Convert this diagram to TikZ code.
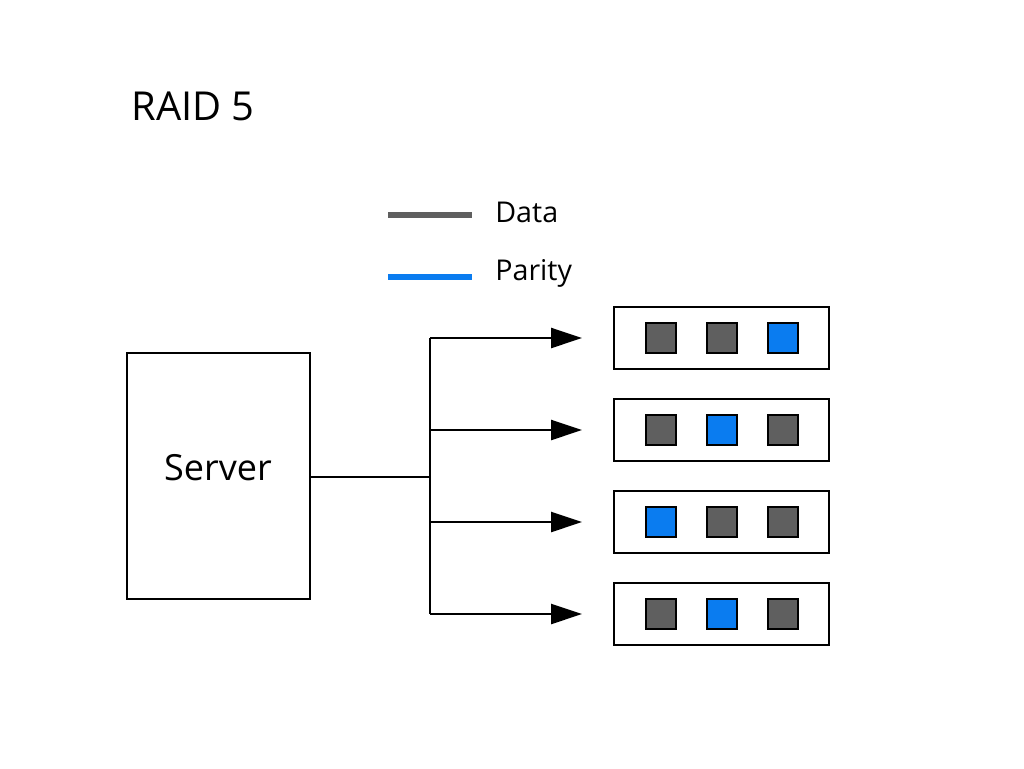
\documentclass[tikz,border=0pt]{standalone}
\usepackage{fontspec}
\setmainfont{Open Sans}
\usetikzlibrary{arrows.meta}
\definecolor{dgray}{HTML}{5F5F5F}
\definecolor{pblue}{HTML}{0A7CF0}
\begin{document}
\begin{tikzpicture}[x=0.02cm,y=-0.02cm,
  box/.style={draw,line width=1.4pt,inner sep=0pt},
  blk/.style={draw,line width=1.4pt,minimum size=30*0.02cm,inner sep=0pt},
  conn/.style={line width=1.4pt},
  arr/.style={conn,-{Triangle[length=31*0.02cm,width=20*0.02cm]}},
  lbl/.style={font=\fontsize{16.3}{19}\selectfont,anchor=west,inner sep=0pt}]
\useasboundingbox (0,0) rectangle (1024,768);
\node[anchor=base west,inner sep=0pt,font=\fontsize{22.7}{26}\selectfont] (title) at (131,120) {RAID 5};
\draw[line width=3.5pt,dgray] (388,215) -- (472,215);
\draw[line width=3.5pt,pblue] (388,277) -- (472,277);
\node[lbl] (ld) at (495,212) {Data};
\node[lbl] (lp) at (495,273) {Parity};
\node[box,minimum width=183*0.02cm,minimum height=246*0.02cm] (srv) at (218.5,476) {};
\node[font=\fontsize{20.5}{24}\selectfont,inner sep=0pt] (srvl) at (218,468) {Server};
\coordinate (j) at (430,477);
\coordinate (t) at (430,338);
\coordinate (b) at (430,614);
\draw[conn] (srv.east |- j) -- (j);
\draw[conn] (t) -- (b);
\foreach \y/\a/\b/\c [count=\i] in {338/dgray/dgray/pblue,430/dgray/pblue/dgray,522/pblue/dgray/dgray,614/dgray/pblue/dgray}{
  \coordinate (s\i) at (430,\y);
  \coordinate (e\i) at (582,\y);
  \draw[arr] (s\i) -- (e\i);
  \node[box,minimum width=215*0.02cm,minimum height=62*0.02cm] (d\i) at (721.5,\y) {};
  \node[blk,fill=\a] (d\i a) at (661,\y) {};
  \node[blk,fill=\b] (d\i b) at (722,\y) {};
  \node[blk,fill=\c] (d\i c) at (783,\y) {};
}
\end{tikzpicture}
\end{document}
